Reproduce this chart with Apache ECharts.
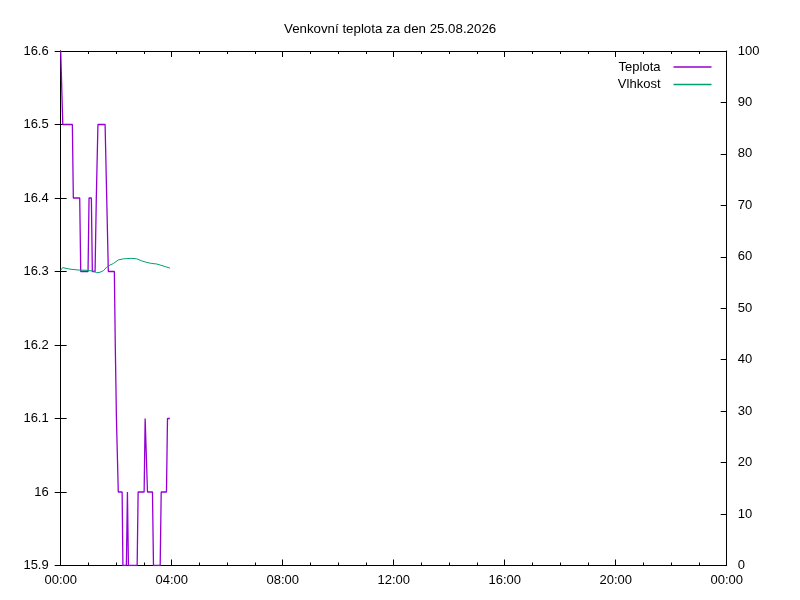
<!DOCTYPE html>
<html>
<head>
<meta charset="utf-8">
<script src="https://cdn.jsdelivr.net/npm/echarts@6/dist/echarts.min.js"></script>
<style>
html,body{margin:0;padding:0;background:#fff;}
#c{width:800px;height:600px;}
</style>
</head>
<body>
<div id="c"></div>
<script>
// Time in minutes after midnight
const tempTimes = [0, 2.5, 4.5, 25.2, 27.3, 41.1, 43.3, 59.1, 61.3, 66.3,
  68.4, 74.3, 77, 80.5, 96, 99.5, 103, 116, 118, 120.5,
  124.5, 132.8, 134.5, 142, 144.3, 146.4, 165.3, 167.4, 180.4, 182.6,
  185.4, 187.6, 198.4, 200.6, 215.1, 217.3, 228.7, 230.9, 236];
const tempValues = [16.6, 16.6, 16.5, 16.5, 16.4, 16.4, 16.3, 16.3, 16.4, 16.4,
  16.3, 16.3, 16.4, 16.5, 16.5, 16.4, 16.3, 16.3, 16.2, 16.1,
  16.0, 16.0, 15.9, 15.9, 16.0, 15.9, 15.9, 16.0, 16.0, 16.1,
  16.1, 16.0, 16.0, 15.9, 15.9, 16.0, 16.0, 16.1, 16.1];
const humTimes = [0, 4.3, 9.3, 20.1, 31, 41.8, 52.6, 63.5, 70.7, 78, 85.1, 92.3,
  99.6, 106.8, 113.9, 124.8, 135.6, 142.9, 153.8, 164.6, 175.4, 186.3, 197.1,
  207.9, 215.1, 225.9, 236];
const humValues = [57.4, 57.9, 57.8, 57.6, 57.5, 57.4, 57.4, 57.3, 57.2, 56.9, 57.0, 57.3,
  58.0, 58.4, 58.7, 59.4, 59.6, 59.65, 59.7, 59.6, 59.2, 58.9, 58.7,
  58.6, 58.4, 58.1, 57.8];
const xTickLabels = ['00:00', '04:00', '08:00', '12:00', '16:00', '20:00', '00:00'];
const titleText = 'Venkovní teplota za den 25.08.2026';
const seriesNames = ['Teplota', 'Vlhkost'];

const FONT = '"Liberation Sans", Arial, sans-serif';
const chart = echarts.init(document.getElementById('c'), null, {renderer: 'canvas'});
const ax = {color: '#000', width: 1};
const common = {fontFamily: FONT, fontSize: 13, color: '#000'};
const gridRect = {left: 60.7, right: 73.3, top: 51, bottom: 34.5, containLabel: false};

chart.setOption({
  animation: false,
  backgroundColor: '#fff',
  title: {
    text: titleText, left: 279, top: 18,
    textStyle: {fontFamily: FONT, fontSize: 13.3, fontWeight: 'normal', color: '#000'}
  },
  legend: {
    orient: 'vertical', right: 83.5, top: 55, align: 'right',
    itemWidth: 38, itemHeight: 1.5, itemGap: 3.6, icon: 'rect',
    textStyle: {fontFamily: FONT, fontSize: 13, color: '#000', lineHeight: 14, padding: [0, 8, 0, 0]},
    data: seriesNames
  },
  grid: [Object.assign({}, gridRect), Object.assign({}, gridRect)],
  xAxis: [{
    gridIndex: 0, type: 'value', min: 0, max: 1440, interval: 240, position: 'bottom',
    axisLine: {show: true, lineStyle: ax},
    axisTick: {show: true, inside: true, length: 6, lineStyle: ax},
    minorTick: {show: true, splitNumber: 4, length: 3, lineStyle: ax},
    splitLine: {show: false}, minorSplitLine: {show: false},
    axisLabel: Object.assign({margin: 8, formatter: v => xTickLabels[Math.round(v / 240)]}, common)
  }, {
    gridIndex: 1, type: 'value', min: 0, max: 1440, interval: 240, position: 'top',
    axisLine: {show: true, lineStyle: ax},
    axisTick: {show: true, inside: true, length: 6, lineStyle: ax},
    minorTick: {show: true, splitNumber: 4, length: 3, lineStyle: ax},
    splitLine: {show: false}, minorSplitLine: {show: false},
    axisLabel: {show: false}
  }],
  yAxis: [{
    gridIndex: 0, type: 'value', min: 15.9, max: 16.6, interval: 0.1, position: 'left',
    axisLine: {show: true, lineStyle: ax},
    axisTick: {show: true, inside: true, length: 6, lineStyle: ax},
    splitLine: {show: false},
    axisLabel: Object.assign({margin: 12, formatter: v => String(+(+v).toFixed(1))}, common)
  }, {
    gridIndex: 0, type: 'value', min: 0, max: 100, interval: 10, position: 'right',
    axisLine: {show: true, lineStyle: ax},
    axisTick: {show: true, inside: true, length: 6, lineStyle: ax},
    splitLine: {show: false},
    axisLabel: Object.assign({margin: 11}, common)
  }, {
    gridIndex: 1, type: 'value', min: 15.9, max: 16.6, interval: 0.1, position: 'right',
    axisLine: {show: true, lineStyle: ax},
    axisTick: {show: true, inside: true, length: 6, lineStyle: ax},
    splitLine: {show: false},
    axisLabel: {show: false}
  }],
  series: [{
    name: seriesNames[0], type: 'line', xAxisIndex: 0, yAxisIndex: 0,
    showSymbol: false, symbol: 'none', clip: true,
    lineStyle: {color: '#9400d3', width: 1.3}, itemStyle: {color: '#9400d3'},
    data: tempTimes.map((t, i) => [t, tempValues[i]])
  }, {
    name: seriesNames[1], type: 'line', xAxisIndex: 0, yAxisIndex: 1,
    showSymbol: false, symbol: 'none', clip: true,
    lineStyle: {color: '#009e73', width: 1}, itemStyle: {color: '#009e73'},
    data: humTimes.map((t, i) => [t, humValues[i]])
  }]
});
</script>
</body>
</html>
